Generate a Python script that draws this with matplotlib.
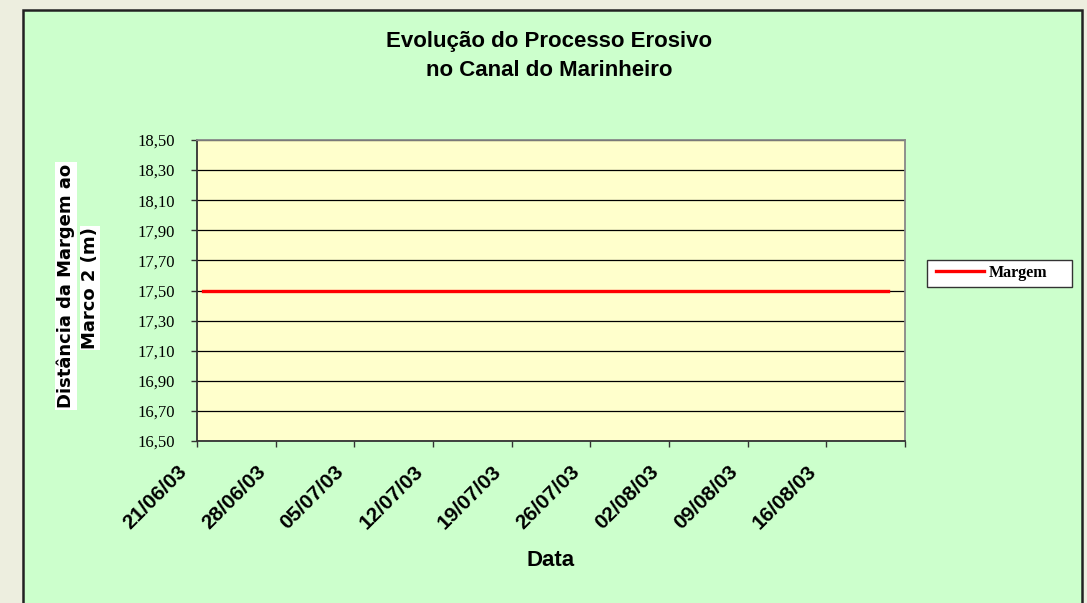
import datetime as dt
import matplotlib
matplotlib.use('Agg')
import matplotlib.pyplot as plt
import matplotlib.dates as mdates
import matplotlib.transforms as mtransforms
from matplotlib.patches import Rectangle
from matplotlib.ticker import FixedLocator, FuncFormatter, NullFormatter

# data
datas = ['21/06/03', '21/08/03']
margem = [17.50, 17.50]
tick_labels = ['21/06/03', '28/06/03', '05/07/03', '12/07/03', '19/07/03',
               '26/07/03', '02/08/03', '09/08/03', '16/08/03', '']
y_ticks = [16.5, 16.7, 16.9, 17.1, 17.3, 17.5, 17.7, 17.9, 18.1, 18.3, 18.5]

x = [mdates.date2num(dt.datetime.strptime(d, '%d/%m/%y')) + 0.5 for d in datas]
x0 = mdates.date2num(dt.datetime(2003, 6, 21))
x_ticks = [x0 + 7 * i for i in range(len(tick_labels))]

fig = plt.figure(figsize=(10.87, 6.03), dpi=100)
fig.patch.set_facecolor('#EDEEDF')
fig.patches.append(Rectangle((23 / 1087, -0.05), (1082 - 23) / 1087, 1.05 - 10 / 603,
                             transform=fig.transFigure, facecolor='#CCFFCC',
                             edgecolor='#222222', linewidth=1.8, zorder=-5))

ax = fig.add_axes([197 / 1087, 1 - 441 / 603, (905 - 197) / 1087, (441 - 140) / 603])
ax.set_facecolor('#FFFFCC')
ax.plot(x, margem, color='#FF0000', linewidth=2.4, label='Margem', zorder=3)

ax.set_xlim(x_ticks[0], x_ticks[-1])
ax.set_ylim(16.5, 18.5)
ax.xaxis.set_major_locator(FixedLocator(x_ticks))
ax.xaxis.set_major_formatter(NullFormatter())
# rotated date labels, sitting left of their tick like in Excel
lab_tr = mtransforms.offset_copy(ax.get_xaxis_transform(), fig, x=-20, y=-21, units='dots')
for xt, lab in zip(x_ticks, tick_labels):
    ax.text(xt, 0, lab, transform=lab_tr, rotation=45, ha='right', va='top',
            rotation_mode='anchor', fontsize=15, fontweight='bold', family='Liberation Sans',
            clip_on=False)

ax.set_yticks(y_ticks)
ax.yaxis.set_major_formatter(FuncFormatter(lambda v, p: ('%.2f' % v).replace('.', ',')))
for t in ax.get_yticklabels():
    t.set_family('Liberation Serif')
    t.set_fontsize(12)
ax.tick_params(axis='both', direction='out', length=4, width=1, color='#333333')
ax.tick_params(axis='y', pad=12)
ax.grid(axis='y', color='black', linewidth=0.9)
ax.set_axisbelow(True)
for s in ['left', 'bottom']:
    ax.spines[s].set_color('#333333')
    ax.spines[s].set_linewidth(1.3)
for s in ['top', 'right']:
    ax.spines[s].set_color('#888888')
    ax.spines[s].set_linewidth(1.3)

fig.text(549 / 1087, 1 - 42 / 603, 'Evolução do Processo Erosivo', ha='center', va='center',
         fontsize=16, fontweight='bold', family='Liberation Sans')
fig.text(549 / 1087, 1 - 71 / 603, 'no Canal do Marinheiro', ha='center', va='center',
         fontsize=16, fontweight='bold', family='Liberation Sans')
fig.text(551 / 1087, 1 - 560 / 603, 'Data', ha='center', va='center',
         fontsize=16, fontweight='bold', family='Liberation Sans')

ylab = dict(rotation=90, fontsize=13, fontweight='bold', family='DejaVu Sans', ha='center',
            va='center', bbox=dict(facecolor='white', edgecolor='none', pad=1.0))
fig.text(66 / 1087, 1 - 286 / 603, 'Distância da Margem ao', **ylab)
fig.text(90 / 1087, 1 - 288 / 603, 'Marco 2 (m)', **ylab)

# legend: box drawn separately, entries without frame
fig.patches.append(Rectangle((927 / 1087, 1 - 287 / 603), (1072 - 927) / 1087, 27 / 603,
                             transform=fig.transFigure, facecolor='white',
                             edgecolor='#333333', linewidth=1, zorder=-4))
leg = ax.legend(loc='center left', bbox_to_anchor=(936 / 1087, 1 - 273 / 603),
                bbox_transform=fig.transFigure, frameon=False,
                prop={'family': 'Liberation Serif', 'weight': 'bold', 'size': 11.5},
                handlelength=3.0, borderpad=0, handletextpad=0.3, borderaxespad=0)

plt.savefig('out.png', dpi=100, facecolor=fig.get_facecolor())
